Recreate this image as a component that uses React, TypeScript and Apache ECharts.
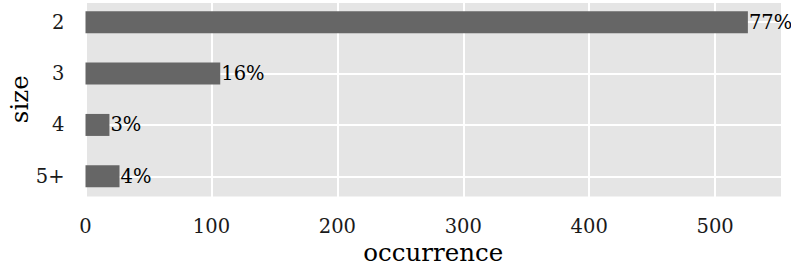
import React, { useEffect, useRef } from "react";
import * as echarts from "echarts";

const sizes = ["2", "3", "4", "5+"];
const occurrences = [526, 107, 19, 27];
const xTicks = [0, 100, 200, 300, 400, 500];

const FONT = "DejaVu Serif";

export default function App() {
  const ref = useRef<HTMLDivElement>(null);
  useEffect(() => {
    document.body.style.margin = "0";
    const chart = echarts.init(ref.current!, null, { renderer: "svg" });
    const total = occurrences.reduce((a, b) => a + b, 0);
    const xMax = Math.max(...occurrences) * 1.05;
    chart.setOption({
      animation: false,
      backgroundColor: "#ffffff",
      graphic: [
        {
          type: "rect",
          silent: true,
          z: -10,
          shape: { x: 85, y: 3, width: 696, height: 193.5 },
          style: { fill: "#e5e5e5" },
        },
      ],
      grid: {
        left: 85.5,
        top: -3.5,
        width: 695.5,
        height: 205.5,
        containLabel: false,
        outerBoundsMode: "none",
      },
      xAxis: {
        type: "value",
        min: 0,
        max: xMax,
        interval: 100,
        name: "occurrence",
        nameLocation: "middle",
        nameGap: 38,
        nameMoveOverlap: false,
        nameTextStyle: { fontFamily: FONT, fontSize: 24.5, color: "#000000" },
        axisLine: { show: false },
        axisTick: { show: false },
        axisLabel: {
          fontFamily: FONT,
          fontSize: 19.5,
          color: "#1a1a1a",
          margin: 14,
          showMaxLabel: false,
          formatter: (v: number) => (xTicks.includes(v) ? String(v) : ""),
        },
        splitLine: { show: true, showMaxLine: false, lineStyle: { color: "#ffffff", width: 2 } },
      },
      yAxis: {
        type: "category",
        data: sizes,
        inverse: true,
        name: "size",
        nameLocation: "middle",
        nameGap: 54,
        nameMoveOverlap: false,
        nameTextStyle: { fontFamily: FONT, fontSize: 24.5, color: "#000000" },
        axisLine: { show: false },
        axisTick: { show: false },
        axisLabel: { fontFamily: FONT, fontSize: 19.5, color: "#1a1a1a", margin: 21 },
        splitLine: { show: true, alignWithLabel: true, lineStyle: { color: "#ffffff", width: 2 } },
      },
      series: [
        {
          type: "bar",
          data: occurrences,
          barWidth: 22,
          itemStyle: { color: "#666666" },
          label: {
            show: true,
            position: "right",
            distance: 1,
            fontFamily: FONT,
            fontSize: 19.5,
            color: "#000000",
            formatter: (p: any) => Math.round((p.value / total) * 100) + "%",
          },
        },
      ],
    });
    return () => chart.dispose();
  }, []);
  return (
    <div
      ref={ref}
      style={{ position: "fixed", left: 0, top: 0, width: 791, height: 268 }}
    />
  );
}
